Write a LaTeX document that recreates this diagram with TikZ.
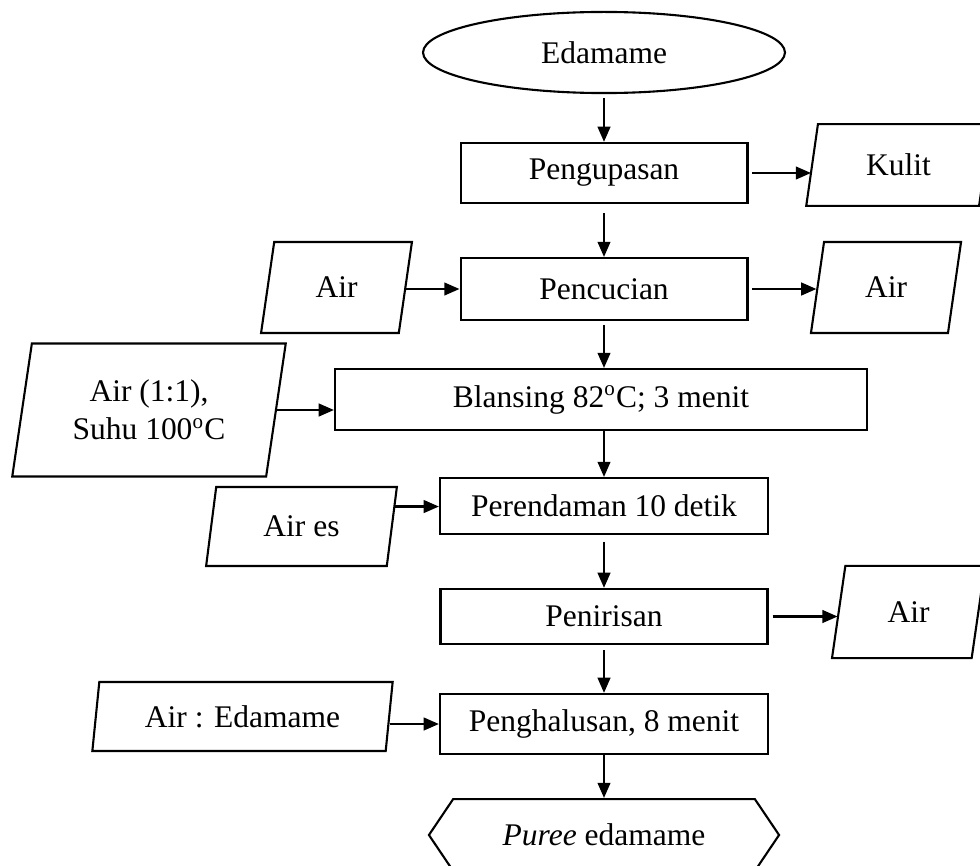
\documentclass[tikz,border=0pt]{standalone}
\usepackage{fontspec}
\setmainfont{Liberation Serif}
\usetikzlibrary{arrows.meta, positioning, shapes.geometric, shapes.symbols}

\begin{document}
\begin{tikzpicture}[x=0.381pt, y=-0.381pt,
  every node/.style={font=\fontsize{12}{14.5}\selectfont, line width=0.8pt, inner sep=0pt, align=center},
  proses/.style={draw, rectangle},
  bahan/.style={draw, trapezium, trapezium left angle=78, trapezium right angle=102, trapezium stretches=true},
  arr/.style={-{Triangle[length=5.8pt, width=4.8pt]}, line width=0.9pt}]
  \useasboundingbox (0,0) rectangle (980,865);

  % Alur utama
  \node[draw, ellipse, minimum width=137.9pt, minimum height=30.9pt] (edamame) at (604,52.5) {Edamame};
  \node[proses, minimum width=109.3pt, minimum height=22.9pt] (kupas) at (604,173) {Pengupasan};
  \node[proses, minimum width=109.3pt, minimum height=23.6pt] (cuci) at (604,289) {Pencucian};
  \node[proses, minimum width=202.7pt, minimum height=23.2pt] (blansing) at (601,399.5) {Blansing 82\textsuperscript{o}C; 3 menit};
  \node[proses, minimum width=125pt, minimum height=21.3pt] (rendam) at (604,506) {Perendaman 10 detik};
  \node[proses, minimum width=124.6pt, minimum height=21pt] (tiris) at (604,616.5) {Penirisan};
  \node[proses, minimum width=125pt, minimum height=22.9pt] (halus) at (604,724) {Penghalusan, 8 menit};
  \node[draw, signal, signal to=west and east, signal pointer angle=112, minimum width=133.4pt, minimum height=27.4pt] (puree) at (604,835) {\textit{Puree} edamame};

  % Bahan masuk dan keluar
  \node[bahan, minimum width=70.5pt, minimum height=31.2pt] (kulit) at (898.5,165) {Kulit};
  \node[bahan, minimum width=57.2pt, minimum height=34.7pt] (airkeluar) at (886,287.5) {Air};
  \node[bahan, minimum width=58.3pt, minimum height=35.1pt] (airtiris) at (908.5,612) {Air};
  \node[bahan, minimum width=57.5pt, minimum height=34.7pt] (aircuci) at (336.5,287.5) {Air};
  \node[bahan, minimum width=104.4pt, minimum height=50.7pt] (airblansing) at (149,410) {Air (1:1),\\ Suhu 100\textsuperscript{o}C};
  \node[bahan, minimum width=72.8pt, minimum height=30.1pt] (aires) at (301.5,526.5) {Air es};
  \node[bahan, minimum width=114.7pt, minimum height=26.3pt] (airhalus) at (242.5,716.5) {Air : Edamame};

  \draw[arr, shorten <=1.5pt] (edamame.south) -- (kupas.north);
  \draw[arr, shorten <=3.5pt] (kupas.south) -- (cuci.north);
  \draw[arr, shorten <=1.5pt] (cuci.south) -- (cuci.south |- blansing.north);
  \draw[arr] (blansing.south -| rendam.north) -- (rendam.north);
  \draw[arr, shorten <=2.5pt] (rendam.south) -- (tiris.north);
  \draw[arr, shorten <=2pt] (tiris.south) -- (halus.north);
  \draw[arr] (halus.south) -- (puree.north);

  \draw[arr, shorten <=1.5pt] (kupas.east) -- (kupas.east -| kulit.west);
  \draw[arr, shorten <=1.5pt] (cuci.east) -- (cuci.east -| airkeluar.west);
  \draw[arr, shorten <=1.5pt] (tiris.east) -- (tiris.east -| airtiris.west);
  \draw[arr] (aircuci.east |- cuci.west) -- (cuci.west);
  \draw[arr] (airblansing.east) -- (airblansing.east -| blansing.west);
  \draw[arr] (aires.12) -- (aires.12 -| rendam.west);
  \draw[arr] (airhalus.east |- halus.west) -- (halus.west);
\end{tikzpicture}
\end{document}
